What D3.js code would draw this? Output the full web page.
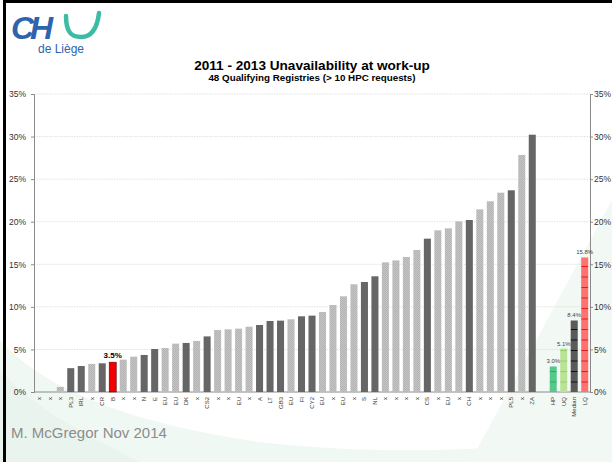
<!DOCTYPE html>
<html>
<head>
<meta charset="utf-8">
<script src="https://cdn.jsdelivr.net/npm/d3@7"></script>
<style>
  body { margin: 0; background: #fff; }
  svg { display: block; font-family: Arial, "Liberation Sans", sans-serif; }
</style>
</head>
<body>
<svg id="chart"></svg>
<script>
var width = 612, height = 462

// registries, sorted by unavailability (%)
var registries = ["x", "x", "x", "PL3", "IRL", "x", "CR", "B", "x", "x", "N", "E", "EU", "EU", "DK", "x",
    "CS2", "x", "x", "EU", "x", "A", "LT", "GB3", "EU", "FI", "CY2", "EU", "x", "EU", "x", "S", "NL",
    "x", "x", "x", "x", "CS", "x", "EU", "x", "CH", "x", "x", "x", "PL5", "x", "ZA"]
var unavailability = [0, 0, 0.6, 2.8, 3.05, 3.3, 3.37, 3.5, 3.8, 4.15, 4.35, 5.05, 5.17, 5.68, 5.76, 6.0,
    6.53, 7.28, 7.36, 7.44, 7.67, 7.87, 8.34, 8.38, 8.54, 8.89, 8.97, 9.4, 10.22, 11.24, 12.65, 12.92, 13.59,
    15.23, 15.46, 15.86, 16.68, 18.01, 18.99, 19.22, 20.04, 20.2, 21.45, 22.4, 23.41, 23.69, 27.84, 30.22]
var highlighted = "B"

var summaryLabels = ["HP", "UQ", "Median", "LQ"]
var summaryValues = [3.0, 5.1, 8.4, 15.8]

var yTicks = [0, 5, 10, 15, 20, 25, 30, 35]

var svg = d3.select("#chart")
    .attr("width", width)
    .attr("height", height)

var defs = svg.append("defs")

// checker texture for the anonymous / EU bars
var chk = defs.append("pattern")
    .attr("id", "light")
    .attr("patternUnits", "userSpaceOnUse")
    .attr("width", 2).attr("height", 2)
chk.append("rect").attr("width", 2).attr("height", 2).attr("fill", "#c4c4c4")
chk.append("rect").attr("width", 1).attr("height", 1).attr("fill", "#b4b4b4")
chk.append("rect").attr("x", 1).attr("y", 1).attr("width", 1).attr("height", 1).attr("fill", "#b4b4b4")

// striped fills for the summary bars
var stripes = [
    {id: "s0", fill: "#55c98c", line: "#2fa765"},
    {id: "s1", fill: "#b9e395", line: "#93cf6a"},
    {id: "s2", fill: "#5a5a5a", line: "#111"},
    {id: "s3", fill: "#ff7272", line: "#e81b1b"}
]
stripes.forEach(function(s) {
    var p = defs.append("pattern")
        .attr("id", s.id)
        .attr("patternUnits", "userSpaceOnUse")
        .attr("y", 392)
        .attr("width", 20).attr("height", 10.5)
    p.append("rect").attr("width", 20).attr("height", 10.5).attr("fill", s.fill)
    p.append("rect").attr("y", 0).attr("width", 20).attr("height", 1).attr("fill", s.line)
})

// background swooshes
svg.append("path")
    .attr("d", "M0,340 C40,385 120,422 260,442 C380,456 520,452 612,432 L612,462 L0,462 Z")
    .attr("fill", "#f0f8f4")
svg.append("path")
    .attr("d", "M470,462 L612,200 L612,462 Z")
    .attr("fill", "#f2f9f5")
svg.append("path")
    .attr("d", "M0,370 C30,405 80,432 140,462 L0,462 Z")
    .attr("fill", "#e9f4ee")

// frame
svg.append("rect").attr("x", 3).attr("y", 0).attr("width", 609).attr("height", 3).attr("fill", "#000")
svg.append("rect").attr("x", 3).attr("y", 0).attr("width", 3).attr("height", height).attr("fill", "#000")

// logo
var logo = svg.append("g")
logo.append("text")
    .attr("x", 11).attr("y", 39)
    .attr("font-size", 32).attr("font-weight", "bold").attr("font-style", "italic")
    .attr("fill", "#2e64ad").attr("letter-spacing", -4)
    .text("CH")
logo.append("path")
    .attr("d", "M66,16 C66,33 72,37 81,37 C91,37 97,30 99,13")
    .attr("fill", "none").attr("stroke", "#3dbca5").attr("stroke-width", 4.5).attr("stroke-linecap", "round")
logo.append("text")
    .attr("x", 38).attr("y", 53)
    .attr("font-size", 12).attr("fill", "#2e64ad")
    .text("de Liège")

// titles
svg.append("text")
    .attr("x", 312).attr("y", 70)
    .attr("text-anchor", "middle").attr("font-size", 13.6).attr("font-weight", "bold")
    .text("2011 - 2013 Unavailability at work-up")
svg.append("text")
    .attr("x", 312).attr("y", 81)
    .attr("text-anchor", "middle").attr("font-size", 9.8).attr("font-weight", "bold")
    .text("48 Qualifying Registries (> 10 HPC requests)")

// scales: one slot per registry, an empty slot, then the summary bars
var slots = d3.range(registries.length + 1 + summaryLabels.length)
var x = d3.scaleBand()
    .domain(slots)
    .range([34, 590])
    .paddingInner(0.33)
    .paddingOuter(0.17)
var y = d3.scaleLinear()
    .domain([0, 35])
    .range([392, 94])

// grid
svg.append("g").selectAll("line")
    .data(yTicks.slice(1))
    .enter().append("line")
    .attr("x1", 34).attr("x2", 590)
    .attr("y1", function(d) { return y(d) }).attr("y2", function(d) { return y(d) })
    .attr("stroke", "#d6d6d6").attr("stroke-width", 0.7).attr("stroke-dasharray", "1.5,1")

// axes
var pct = function(d) { return d + "%" }
var leftAxis = svg.append("g")
    .attr("transform", "translate(34,0)")
    .call(d3.axisLeft(y).tickValues(yTicks).tickFormat(pct).tickSize(3))
var rightAxis = svg.append("g")
    .attr("transform", "translate(590,0)")
    .call(d3.axisRight(y).tickValues(yTicks).tickFormat(pct).tickSize(3))
;[leftAxis, rightAxis].forEach(function(a) {
    a.select(".domain").attr("stroke", "#8a8a8a")
    a.selectAll(".tick line").attr("stroke", "#8a8a8a")
    a.selectAll("text").attr("font-size", 8.5).attr("fill", "#333").attr("font-family", "Arial, 'Liberation Sans', sans-serif")
})
leftAxis.selectAll("text").attr("x", -8)
rightAxis.selectAll("text").attr("x", 4)

// baseline
svg.append("line")
    .attr("x1", 34).attr("x2", 590).attr("y1", 392).attr("y2", 392)
    .attr("stroke", "#8a8a8a")

// registry bars
var regData = registries.map(function(name, i) { return {i: i, name: name, v: unavailability[i]} })
function regFill(d) {
    if (d.name === highlighted) return "#f00000"
    if (d.name === "x" || d.name === "EU") return "url(#light)"
    return "#666"
}
svg.append("g").selectAll("rect")
    .data(regData.filter(function(d) { return d.v > 0 }))
    .enter().append("rect")
    .attr("x", function(d) { return x(d.i) })
    .attr("width", x.bandwidth())
    .attr("y", function(d) { return y(d.v) })
    .attr("height", function(d) { return y(0) - y(d.v) })
    .attr("fill", regFill)
    .attr("stroke", function(d) { return d.name === highlighted ? "#600" : "none" })
    .attr("stroke-width", 0.6)

// value label on the highlighted registry
regData.filter(function(d) { return d.name === highlighted }).forEach(function(d) {
    svg.append("text")
        .attr("x", x(d.i) + x.bandwidth() / 2).attr("y", y(d.v) - 4)
        .attr("text-anchor", "middle").attr("font-size", 8).attr("font-weight", "bold")
        .text(d.v.toFixed(1) + "%")
})

// summary bars
var sumData = summaryLabels.map(function(name, k) {
    return {i: registries.length + 1 + k, k: k, name: name, v: summaryValues[k]}
})
svg.append("g").selectAll("rect")
    .data(sumData)
    .enter().append("rect")
    .attr("x", function(d) { return x(d.i) })
    .attr("width", x.bandwidth())
    .attr("y", function(d) { return y(d.v) })
    .attr("height", function(d) { return y(0) - y(d.v) })
    .attr("fill", function(d) { return "url(#s" + d.k + ")" })
svg.append("g").selectAll("text")
    .data(sumData)
    .enter().append("text")
    .attr("x", function(d) { return x(d.i) + x.bandwidth() / 2 })
    .attr("y", function(d) { return y(d.v) - 3 })
    .attr("text-anchor", "middle").attr("font-size", 6).attr("fill", "#444")
    .text(function(d) { return d.v.toFixed(1) + "%" })

// rotated category labels
var labels = regData.map(function(d) { return {i: d.i, name: d.name} })
    .concat(sumData.map(function(d) { return {i: d.i, name: d.name} }))
svg.append("g").selectAll("text")
    .data(labels)
    .enter().append("text")
    .attr("transform", function(d) {
        return "translate(" + (x(d.i) + x.bandwidth() / 2 + 2) + ",397) rotate(-90)"
    })
    .attr("text-anchor", "end").attr("font-size", 6).attr("fill", "#333")
    .text(function(d) { return d.name })

// footer
svg.append("text")
    .attr("x", 11).attr("y", 438)
    .attr("font-size", 15).attr("fill", "#8c8c8c")
    .text("M. McGregor Nov 2014")
</script>
</body>
</html>
